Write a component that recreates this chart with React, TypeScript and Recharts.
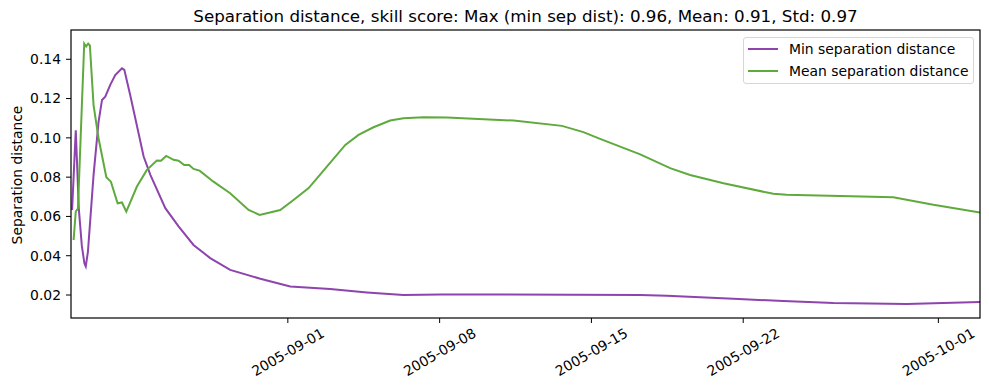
import { LineChart, Line, XAxis, YAxis } from "recharts";

// x values are days since 2005-08-22 00:00
const minDays = [
  0.05, 0.22, 0.36, 0.5, 0.62, 0.68, 0.78, 1.04, 1.27, 1.43, 1.58, 1.81, 2.04,
  2.35, 2.46, 2.73, 3.35, 3.66, 4.35, 4.96, 5.65, 6.42, 7.34, 8.73, 10.11,
  11.95, 13.65, 15.33, 17.03, 20.1, 23.17, 26.25, 27.48, 30.55, 32.85, 35.16,
  38.54, 41.92,
];
const minVals = [
  0.0633, 0.1038, 0.064, 0.045, 0.036, 0.0345, 0.042, 0.081, 0.108, 0.1193,
  0.121, 0.127, 0.132, 0.1354, 0.1346, 0.1218, 0.0905, 0.0812, 0.0642, 0.0549,
  0.0455, 0.0388, 0.0328, 0.0283, 0.0243, 0.023, 0.0213, 0.02, 0.0203, 0.0203,
  0.0201, 0.02, 0.0196, 0.0181, 0.0169, 0.0159, 0.0154, 0.0164,
];

const meanDays = [
  0.12, 0.22, 0.32, 0.61, 0.7, 0.79, 0.87, 1.04, 1.27, 1.63, 1.84, 2.15, 2.35,
  2.55, 3.04, 3.5, 3.96, 4.15, 4.39, 4.73, 4.96, 5.22, 5.45, 5.65, 5.93, 6.57,
  7.34, 8.19, 8.7, 9.65, 10.26, 10.96, 11.8, 12.65, 13.26, 13.95, 14.72, 15.33,
  16.26, 17.34, 20.41, 22.64, 23.63, 24.4, 26.25, 27.63, 28.55, 30.09, 32.39,
  33.0, 37.92, 39.77, 41.92,
];
const meanVals = [
  0.048, 0.0625, 0.064, 0.148, 0.1465, 0.148, 0.147, 0.1167, 0.0998, 0.08,
  0.0777, 0.0667, 0.0671, 0.0625, 0.0752, 0.0837, 0.0884, 0.0883, 0.0908,
  0.0888, 0.0884, 0.0862, 0.0862, 0.0842, 0.0833, 0.0777, 0.0718, 0.0633,
  0.0608, 0.0633, 0.0684, 0.0744, 0.0854, 0.0964, 0.1015, 0.1054, 0.1088, 0.11,
  0.1105, 0.1103, 0.1088, 0.1061, 0.1029, 0.0995, 0.0916, 0.0846, 0.0811,
  0.0769, 0.0715, 0.071, 0.0698, 0.0659, 0.062,
];

const xTickDays = [10, 17, 24, 31, 40];
const xTickLabels = ["2005-09-01", "2005-09-08", "2005-09-15", "2005-09-22", "2005-10-01"];
const yTicks = [0.02, 0.04, 0.06, 0.08, 0.1, 0.12, 0.14];

const X_DOMAIN = [0, 41.92];
const Y_DOMAIN = [0.0083, 0.1549];

const TITLE =
  "Separation distance, skill score: Max (min sep dist): 0.96, Mean: 0.91, Std: 0.97";
const MIN_COLOR = "#8d44ad";
const MEAN_COLOR = "#5eaa3d";
const FONT = "'DejaVu Sans', sans-serif";

const minData = minDays.map((d, i) => ({ day: d, v: minVals[i] }));
const meanData = meanDays.map((d, i) => ({ day: d, v: meanVals[i] }));

// matplotlib-style rotated label: bbox centred under the tick
function DateTick(props: any) {
  const { x, payload } = props;
  const idx = xTickDays.indexOf(payload.value);
  const label = idx >= 0 ? xTickLabels[idx] : "";
  const cy = 352;
  return (
    <text
      x={x}
      y={cy}
      textAnchor="middle"
      dominantBaseline="central"
      transform={`rotate(-30 ${x} ${cy})`}
      fill="#000"
      fontSize={13.9}
      fontFamily={FONT}
    >
      {label}
    </text>
  );
}

export default function App() {
  return (
    <div
      style={{
        position: "absolute",
        left: 0,
        top: 0,
        width: 989,
        height: 390,
        background: "#fff",
        fontFamily: FONT,
      }}
    >
      <LineChart
        width={989}
        height={390}
        margin={{ top: 30, right: 9, bottom: 0, left: 0 }}
      >
        <XAxis
          dataKey="day"
          type="number"
          domain={X_DOMAIN}
          ticks={xTickDays}
          allowDataOverflow
          height={72}
          tickSize={5}
          tickMargin={0}
          tickLine={{ stroke: "#000" }}
          axisLine={false}
          tick={<DateTick />}
          interval={0}
        />
        <YAxis
          type="number"
          domain={Y_DOMAIN}
          ticks={yTicks}
          allowDataOverflow
          width={71}
          tickSize={5}
          tickMargin={5}
          tickLine={{ stroke: "#000" }}
          axisLine={false}
          tick={{ fill: "#000", fontSize: 13.9, fontFamily: FONT }}
          tickFormatter={(v: number) => v.toFixed(2)}
          interval={0}
        />
        <Line
          data={minData}
          dataKey="v"
          type="linear"
          stroke={MIN_COLOR}
          strokeWidth={2}
          dot={false}
          isAnimationActive={false}
        />
        <Line
          data={meanData}
          dataKey="v"
          type="linear"
          stroke={MEAN_COLOR}
          strokeWidth={2}
          dot={false}
          isAnimationActive={false}
        />
      </LineChart>

      {/* axes frame: all four spines, on the plot-area edges */}
      <svg
        width={989}
        height={390}
        style={{ position: "absolute", left: 0, top: 0, zIndex: 5, pointerEvents: "none" }}
      >
        <rect x={71} y={30} width={909} height={288} fill="none" stroke="#000" strokeWidth={1.2} />
      </svg>

      <div
        style={{
          position: "absolute",
          left: 71,
          width: 909,
          top: 4,
          textAlign: "center",
          fontSize: 16.7,
          lineHeight: "24px",
          color: "#000",
          whiteSpace: "nowrap",
        }}
      >
        {TITLE}
      </div>

      <div
        style={{
          position: "absolute",
          left: 17,
          top: 175,
          transform: "translate(-50%, -50%) rotate(-90deg)",
          fontSize: 13.9,
          whiteSpace: "nowrap",
          color: "#000",
        }}
      >
        Separation distance
      </div>

      <div
        style={{
          position: "absolute",
          left: 743,
          top: 37,
          width: 229,
          height: 45,
          border: "1px solid #d6d6d6",
          borderRadius: 3,
          background: "#fff",
          fontSize: 13.9,
          color: "#000",
          zIndex: 6,
        }}
      >
        {[
          { label: "Min separation distance", color: MIN_COLOR, top: 11 },
          { label: "Mean separation distance", color: MEAN_COLOR, top: 33 },
        ].map((row) => (
          <div key={row.label}>
            <div
              style={{
                position: "absolute",
                left: 4,
                top: row.top - 1,
                width: 30,
                height: 2,
                background: row.color,
              }}
            />
            <div
              style={{
                position: "absolute",
                left: 45,
                top: row.top - 9,
                lineHeight: "18px",
                whiteSpace: "nowrap",
              }}
            >
              {row.label}
            </div>
          </div>
        ))}
      </div>
    </div>
  );
}
